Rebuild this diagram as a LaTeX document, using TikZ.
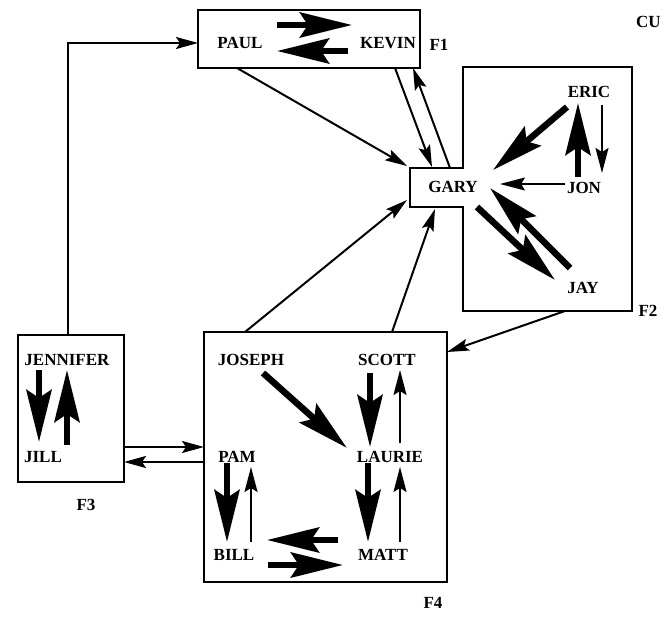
\documentclass[tikz,border=0pt]{standalone}
\usepackage{fontspec}
\setmainfont{Liberation Serif}
\usetikzlibrary{arrows.meta}
\begin{document}
\begin{tikzpicture}[x=1pt,y=-1pt,
  lbl/.style={font=\bfseries\fontsize{17}{17}\selectfont, inner sep=0pt},
  grp/.style={draw, line width=2pt, inner sep=0pt},
  thinar/.style={line width=2pt, -{Stealth[length=25pt,width=13pt,inset=4pt]}},
  fat/.style={line width=6.5pt, -{Stealth[length=52pt,width=25pt,inset=8pt]}},
  link/.style={line width=2pt, -{Stealth[length=22pt,width=12pt,inset=4pt]}}]
\useasboundingbox (0,0) rectangle (666,617);

% group boxes
\node[grp, minimum width=222pt, minimum height=58pt] (f1) at (309,39) {};
\node[grp, minimum width=106pt, minimum height=147pt] (f3) at (71,408.5) {};
\node[grp, minimum width=243pt, minimum height=250pt] (f4) at (325.5,457) {};
\draw[line width=2pt] (463,67) -- (632,67) -- (632,311) -- (463,311) -- (463,207)
  -- (410,207) -- (410,168) -- (463,168) -- cycle;

% names
\node[lbl] (paul) at (240,43) {PAUL};
\node[lbl] (kevin) at (388,43) {KEVIN};
\node[lbl] (lf1) at (439,45) {F1};
\node[lbl] (gary) at (453,187) {GARY};
\node[lbl] (eric) at (589,92) {ERIC};
\node[lbl] (jon) at (584,188) {JON};
\node[lbl] (jay) at (583,288) {JAY};
\node[lbl] (lf2) at (648,311) {F2};
\node[lbl] (jennifer) at (67,360) {JENNIFER};
\node[lbl] (jill) at (43,457) {JILL};
\node[lbl] (lf3) at (86,505) {F3};
\node[lbl] (joseph) at (251,360) {JOSEPH};
\node[lbl] (scott) at (387,360) {SCOTT};
\node[lbl] (pam) at (237,457) {PAM};
\node[lbl] (laurie) at (390,457) {LAURIE};
\node[lbl] (bill) at (234,555) {BILL};
\node[lbl] (matt) at (383,555) {MATT};
\node[lbl] (lf4) at (433,603) {F4};
\node[lbl, anchor=west] (cu) at (636,22) {CU};

% connector end points
\coordinate (c1a) at (68,335);   \coordinate (c1b) at (198,43);
\coordinate (c2a) at (237,68);   \coordinate (c2b) at (407,166);
\coordinate (c3a) at (395,68);   \coordinate (c3b) at (432,167);
\coordinate (c4a) at (450,168);  \coordinate (c4b) at (413,68);
\coordinate (c5a) at (245,332);  \coordinate (c5b) at (407,200);
\coordinate (c6a) at (392,332);  \coordinate (c6b) at (435,209);
\coordinate (c7a) at (565,311);  \coordinate (c7b) at (447,352);
\coordinate (c8a) at (124,447);  \coordinate (c8b) at (204,447);
\coordinate (c9a) at (204,462);  \coordinate (c9b) at (124,462);

% inter-group connectors
\draw[link] (c1a) |- (c1b);
\draw[link] (c2a) -- (c2b);
\draw[link] (c3a) -- (c3b);
\draw[link] (c4a) -- (c4b);
\draw[link] (c5a) -- (c5b);
\draw[link] (c6a) -- (c6b);
\draw[link] (c7a) -- (c7b);
\draw[link] (c8a) -- (c8b);
\draw[link] (c9a) -- (c9b);

% F1
\coordinate (p1) at (277,25); \coordinate (k1) at (352,25);
\coordinate (k2) at (348,51); \coordinate (p2) at (277,51);
\draw[fat] (p1) -- (k1);
\draw[fat] (k2) -- (p2);

% F2
\coordinate (e1) at (567,107); \coordinate (g1) at (493,170);
\coordinate (j1) at (578,177); \coordinate (e2) at (578,103);
\coordinate (e3) at (602,105); \coordinate (j2) at (602,173);
\coordinate (j3) at (565,184); \coordinate (g2) at (500,184);
\coordinate (g3) at (477,207); \coordinate (y1) at (555,280);
\coordinate (y2) at (570,268); \coordinate (g4) at (490,188);
\draw[fat] (e1) -- (g1);
\draw[fat] (j1) -- (e2);
\draw[thinar] (e3) -- (j2);
\draw[thinar] (j3) -- (g2);
\draw[fat] (g3) -- (y1);
\draw[fat] (y2) -- (g4);

% F3
\coordinate (n1) at (39,370); \coordinate (l1) at (39,442);
\coordinate (l2) at (67,445); \coordinate (n2) at (67,370);
\draw[fat] (n1) -- (l1);
\draw[fat] (l2) -- (n2);

% F4
\coordinate (jo1) at (263,373); \coordinate (la1) at (347,448);
\coordinate (s1) at (370,373);  \coordinate (la2) at (370,447);
\coordinate (la3) at (400,443); \coordinate (s2) at (400,370);
\coordinate (la4) at (368,463); \coordinate (m1) at (368,542);
\coordinate (m2) at (400,542);  \coordinate (la5) at (400,467);
\coordinate (pa1) at (227,463); \coordinate (b1) at (227,542);
\coordinate (b2) at (251,542);  \coordinate (pa2) at (251,467);
\coordinate (m3) at (338,540);  \coordinate (b3) at (267,540);
\coordinate (b4) at (268,565);  \coordinate (m4) at (343,565);
\draw[fat] (jo1) -- (la1);
\draw[fat] (s1) -- (la2);
\draw[thinar] (la3) -- (s2);
\draw[fat] (la4) -- (m1);
\draw[thinar] (m2) -- (la5);
\draw[fat] (pa1) -- (b1);
\draw[thinar] (b2) -- (pa2);
\draw[fat] (m3) -- (b3);
\draw[fat] (b4) -- (m4);
\end{tikzpicture}
\end{document}
